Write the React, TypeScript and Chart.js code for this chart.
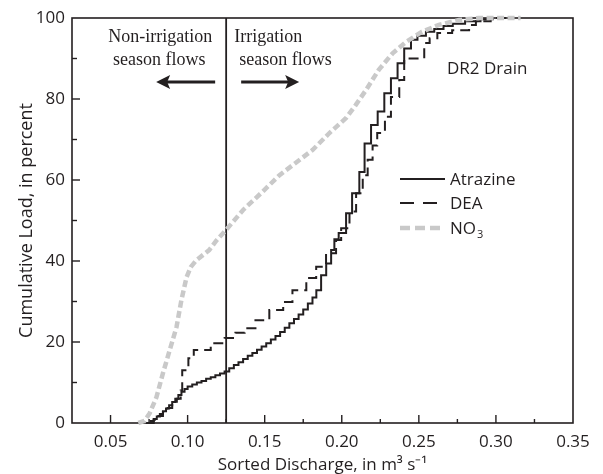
import React, { useEffect, useRef } from "react";
import { Chart, registerables } from "chart.js";

Chart.register(...registerables);

// ---- Data ----
const atrazineX = [
  0.073, 0.076, 0.078, 0.08, 0.082, 0.084, 0.086, 0.088, 0.09, 0.092, 0.094, 0.096, 0.098, 0.1,
  0.103, 0.106, 0.109, 0.112, 0.115, 0.118, 0.121, 0.124, 0.127, 0.13, 0.133, 0.136, 0.139, 0.142,
  0.145, 0.148, 0.151, 0.154, 0.157, 0.16, 0.163, 0.166, 0.169, 0.172, 0.175, 0.178, 0.181, 0.1835,
  0.1866, 0.1899, 0.1931, 0.1952, 0.198, 0.2028, 0.2067, 0.2114, 0.2148, 0.219, 0.2233, 0.2276,
  0.2319, 0.2362, 0.2405, 0.2449, 0.2491, 0.2546, 0.26, 0.266, 0.272, 0.28, 0.29, 0.298,
];
const atrazineY = [
  0, 0.5, 1, 1.6, 2.2, 2.9, 3.6, 4.4, 5.2, 6.0, 6.9, 7.7, 8.4, 9.0,
  9.5, 10.0, 10.4, 10.9, 11.3, 11.8, 12.2, 12.7, 13.5, 14.3, 15.0, 15.8, 16.6, 17.3,
  18.1, 18.9, 19.7, 20.6, 21.5, 22.5, 23.5, 24.6, 25.7, 26.8, 28.0, 29.5, 31.0, 32.8,
  36.5, 39.4, 42.7, 45.4, 46.9, 51.8, 56.7, 62.0, 69.0, 73.6, 76.9, 81.4,
  85.1, 88.8, 92.5, 94.6, 95.6, 96.6, 97.3, 98.0, 98.6, 99.2, 99.7, 100,
];

const deaX = [
  0.075, 0.078, 0.081, 0.084, 0.087, 0.09, 0.093, 0.0955, 0.0965, 0.1005, 0.104, 0.115, 0.124,
  0.131, 0.137, 0.144, 0.153, 0.162, 0.168, 0.177, 0.1834, 0.1898, 0.1963, 0.1996, 0.205, 0.2093,
  0.2136, 0.2168, 0.22, 0.223, 0.228, 0.2319, 0.2373, 0.2405, 0.2535, 0.257, 0.262, 0.2716,
  0.2826, 0.287, 0.2966, 0.31,
];
const deaY = [
  0, 0.8, 1.7, 2.7, 3.7, 4.8, 6.0, 8.0, 13.0, 16.0, 18.0, 19.7, 21.0,
  22.3, 23.4, 25.4, 27.9, 29.9, 32.8, 35.8, 38.6, 41.9, 45.2, 48.1, 52.2, 56.7,
  61.2, 65.0, 68.5, 71.6, 75.6, 80.5, 84.7, 90.0, 93.8, 95.0, 96.3, 97.0,
  98.3, 99.2, 100, 100,
];

const no3X = [
  0.068, 0.072, 0.0755, 0.0798, 0.084, 0.0884, 0.0928, 0.096, 0.0993, 0.102, 0.1057, 0.114,
  0.1186, 0.125, 0.136, 0.1486, 0.1596, 0.17, 0.181, 0.192, 0.2028, 0.209, 0.2157, 0.224, 0.233,
  0.2417, 0.252, 0.263, 0.276, 0.289, 0.316,
];
const no3Y = [
  0, 0.5, 2.5, 6.4, 12.3, 18.0, 23.7, 30.4, 36.0, 38.5, 40.2, 42.7,
  45.0, 47.7, 52.6, 57.1, 61.2, 64.2, 67.4, 71.6, 75.3, 78.5, 82.2, 87.2, 91.3,
  94.1, 96.6, 98.3, 99.5, 100, 100,
];

const seriesNames = ["Atrazine", "DEA", "NO"];
const boundaryX = 0.125;
const xRange = [0.025, 0.35];
const yRange = [0, 100];
const xStep = 0.025;
const yStep = 10;

const SANS = "'Open Sans', 'Liberation Sans', sans-serif";
const SERIF = "'Liberation Serif', 'DejaVu Serif', serif";
const INK = "#231f20";
const GRAY = "#c9c9c9";

function toPoints(xs: number[], ys: number[]) {
  return xs.map((x, i) => ({ x, y: ys[i] }));
}

function isMultiple(v: number, m: number) {
  const r = Math.round(v / m);
  return Math.abs(v - r * m) < 1e-6;
}

const decorPlugin = {
  id: "decor",
  beforeDatasetsDraw(chart: any) {
    const { ctx, chartArea: a, scales } = chart;
    const xs = scales.x;
    const ys = scales.y;
    ctx.save();
    ctx.strokeStyle = INK;
    ctx.lineWidth = 1.6;
    ctx.strokeRect(a.left, a.top, a.right - a.left, a.bottom - a.top);
    // inward ticks
    ctx.lineWidth = 1.4;
    xs.ticks.forEach((t: any) => {
      const v = t.value;
      if (v <= xRange[0] + 1e-9 || v >= xRange[1] - 1e-9) return;
      const px = xs.getPixelForValue(v);
      const len = isMultiple(v, 0.05) ? 8 : 4;
      ctx.beginPath();
      ctx.moveTo(px, a.bottom);
      ctx.lineTo(px, a.bottom - len);
      ctx.stroke();
    });
    ys.ticks.forEach((t: any) => {
      const v = t.value;
      if (v <= yRange[0] + 1e-9 || v >= yRange[1] - 1e-9) return;
      const py = ys.getPixelForValue(v);
      const len = isMultiple(v, 20) ? 8 : 5;
      ctx.beginPath();
      ctx.moveTo(a.left, py);
      ctx.lineTo(a.left + len, py);
      ctx.stroke();
    });
    // season boundary line
    const bx = xs.getPixelForValue(boundaryX);
    ctx.lineWidth = 1.8;
    ctx.beginPath();
    ctx.moveTo(bx, a.top);
    ctx.lineTo(bx, a.bottom);
    ctx.stroke();
    ctx.restore();
  },
  afterDraw(chart: any) {
    const { ctx, scales } = chart;
    const bx = scales.x.getPixelForValue(boundaryX);
    ctx.save();
    ctx.fillStyle = INK;
    ctx.strokeStyle = INK;
    // annotation texts
    ctx.font = `18px ${SERIF}`;
    ctx.textBaseline = "alphabetic";
    ctx.textAlign = "center";
    ctx.fillText("Non-irrigation", bx - 66, 42);
    ctx.fillText("season flows", bx - 67, 65);
    ctx.textAlign = "left";
    ctx.fillText("Irrigation", bx + 8, 42);
    ctx.fillText("season flows", bx + 13, 65);
    // arrows
    const ay = 82;
    ctx.lineWidth = 3;
    ctx.beginPath();
    ctx.moveTo(bx - 11, ay);
    ctx.lineTo(bx - 62, ay);
    ctx.stroke();
    ctx.beginPath();
    ctx.moveTo(bx - 70, ay);
    ctx.lineTo(bx - 56, ay - 7);
    ctx.lineTo(bx - 59, ay);
    ctx.lineTo(bx - 56, ay + 7);
    ctx.closePath();
    ctx.fill();
    ctx.beginPath();
    ctx.moveTo(bx + 15, ay);
    ctx.lineTo(bx + 66, ay);
    ctx.stroke();
    ctx.beginPath();
    ctx.moveTo(bx + 73, ay);
    ctx.lineTo(bx + 59, ay - 7);
    ctx.lineTo(bx + 62, ay);
    ctx.lineTo(bx + 59, ay + 7);
    ctx.closePath();
    ctx.fill();
    // site label
    ctx.font = `17px ${SANS}`;
    ctx.fillText("DR2 Drain", 447, 74);
    // legend
    const lx0 = 400;
    const lx1 = 445;
    const tx = 450;
    ctx.textBaseline = "middle";
    ctx.lineCap = "butt";
    // Atrazine
    ctx.lineWidth = 2;
    ctx.setLineDash([]);
    ctx.beginPath();
    ctx.moveTo(lx0, 179);
    ctx.lineTo(lx1, 179);
    ctx.stroke();
    ctx.fillText(seriesNames[0], tx, 180);
    // DEA
    ctx.setLineDash([14, 9]);
    ctx.beginPath();
    ctx.moveTo(lx0, 203);
    ctx.lineTo(lx1 - 8, 203);
    ctx.stroke();
    ctx.fillText(seriesNames[1], tx, 204);
    // NO3
    ctx.strokeStyle = GRAY;
    ctx.lineWidth = 4.5;
    ctx.setLineDash([10, 5]);
    ctx.beginPath();
    ctx.moveTo(lx0, 228);
    ctx.lineTo(lx1, 228);
    ctx.stroke();
    ctx.setLineDash([]);
    ctx.fillText(seriesNames[2], tx, 229);
    const w = ctx.measureText(seriesNames[2]).width;
    ctx.font = `11px ${SANS}`;
    ctx.fillText("3", tx + w + 1, 235);
    ctx.restore();
  },
};

export default function App() {
  const canvasRef = useRef<HTMLCanvasElement | null>(null);

  useEffect(() => {
    document.body.style.margin = "0";
    const canvas = canvasRef.current;
    if (!canvas) return;
    const tickFont = { family: SANS, size: 17 };
    const chart = new Chart(canvas, {
      type: "line",
      data: {
        datasets: [
          {
            label: "NO3",
            data: toPoints(no3X, no3Y),
            borderColor: GRAY,
            borderWidth: 4.5,
            borderDash: [7, 3.5],
            pointRadius: 0,
            tension: 0,
            fill: false,
            clip: false,
          },
          {
            label: "DEA",
            data: toPoints(deaX, deaY),
            borderColor: INK,
            borderWidth: 2,
            borderDash: [10, 6],
            pointRadius: 0,
            stepped: "before",
            fill: false,
            clip: false,
          },
          {
            label: "Atrazine",
            data: toPoints(atrazineX, atrazineY),
            borderColor: INK,
            borderWidth: 2,
            pointRadius: 0,
            stepped: "before",
            fill: false,
            clip: false,
          },
        ],
      } as any,
      options: {
        animation: false,
        responsive: false,
        layout: { padding: { top: 18, right: 30, left: 0, bottom: 0 } },
        plugins: {
          legend: { display: false },
          tooltip: { enabled: false },
        },
        scales: {
          x: {
            type: "linear",
            min: xRange[0],
            max: xRange[1],
            afterFit: (s: any) => {
              s.height = 51;
            },
            grid: { display: false, drawTicks: false },
            border: { display: false },
            ticks: {
              stepSize: xStep,
              autoSkip: false,
              maxRotation: 0,
              padding: 9,
              color: INK,
              font: tickFont,
              callback: (v: any) => {
                const n = Number(v);
                return isMultiple(n, 0.05) && n > xRange[0] + 1e-9 ? n.toFixed(2) : "";
              },
            },
            title: {
              display: true,
              text: "Sorted Discharge, in m³ s⁻¹",
              color: INK,
              font: { family: SANS, size: 17 },
              padding: { top: 0, bottom: -1 },
            },
          },
          y: {
            type: "linear",
            min: yRange[0],
            max: yRange[1],
            afterFit: (s: any) => {
              s.width = 72;
            },
            grid: { display: false, drawTicks: false },
            border: { display: false },
            ticks: {
              stepSize: yStep,
              autoSkip: false,
              padding: 7,
              color: INK,
              font: tickFont,
              callback: (v: any) => {
                const n = Number(v);
                return isMultiple(n, 20) ? String(Math.round(n)) : "";
              },
            },
            title: {
              display: true,
              text: "Cumulative Load, in percent",
              color: INK,
              font: { family: SANS, size: 18 },
              padding: { top: 16, bottom: 0 },
            },
          },
        },
      } as any,
      plugins: [decorPlugin],
    });
    return () => chart.destroy();
  }, []);

  return (
    <div style={{ position: "absolute", left: 0, top: 0, width: 603, height: 474, background: "#fff" }}>
      <canvas ref={canvasRef} width={603} height={474} style={{ width: 603, height: 474, display: "block" }} />
    </div>
  );
}
